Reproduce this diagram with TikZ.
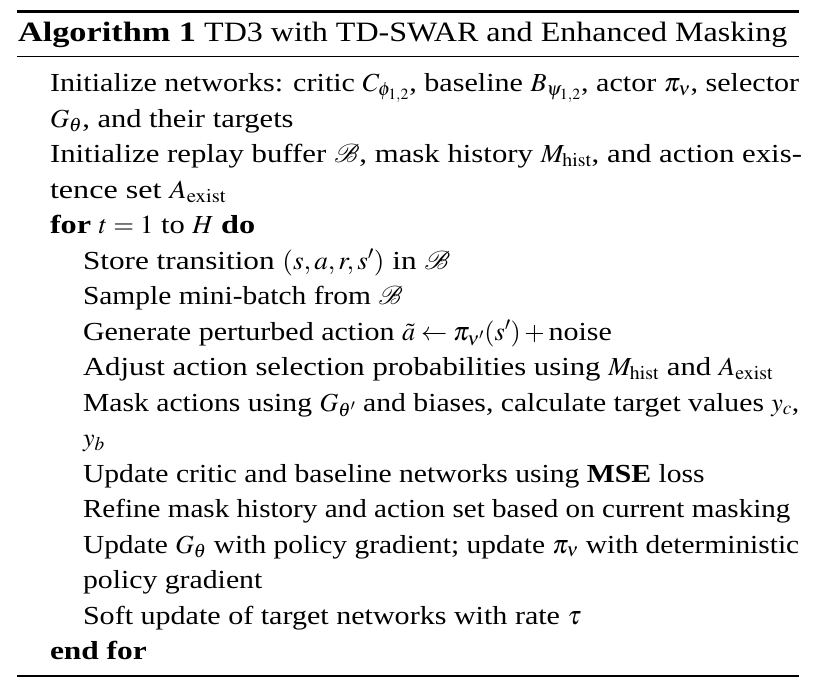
\documentclass[tikz,border=0pt]{standalone}
\usepackage{amsmath}
\usepackage{mathptmx}
\usepackage{graphicx}
\usepackage{fontspec}
\setmainfont{Liberation Serif}[FakeStretch=1.145]
\newcommand\hsx[2]{\scalebox{#1}[1]{#2}}
\newcommand\kw[1]{\scalebox{1.055}[1]{\textbf{#1}}}
\begin{document}
\begin{tikzpicture}[x=1pt,y=-1pt,
  txt/.style={anchor=base west,inner sep=0pt,outer sep=0pt,font=\fontsize{26}{30}\selectfont},
  titletxt/.style={anchor=base west,inner sep=0pt,outer sep=0pt,font=\fontsize{28}{32}\selectfont},
  thickrule/.style={line width=2.4pt,black},
  thinrule/.style={line width=1.3pt,black}]
\useasboundingbox (0,0) rectangle (817,688);
\coordinate (r1l) at (17,11.5); \coordinate (r1r) at (799,11.5);
\coordinate (r2l) at (17,56.5); \coordinate (r2r) at (799,56.5);
\coordinate (r3l) at (17,676); \coordinate (r3r) at (799,676);
\draw[thickrule] (r1l) -- (r1r);
\draw[thinrule] (r2l) -- (r2r);
\draw[thinrule] (r3l) -- (r3r);
\node[titletxt] (title) at (18,41.7) {\scalebox{1.07}[1]{\textbf{Algorithm 1}} TD3 with TD-SWAR and Enhanced Masking};
\node[txt] (l0) at (50,91.5) {\hsx{1.011}{Initialize networks: critic $C_{\phi_{1,2}}$, baseline $B_{\psi_{1,2}}$, actor $\pi_\nu$, selector}};
\node[txt] (l1) at (50,127) {\hsx{1.025}{$G_\theta$, and their targets}};
\node[txt] (l2) at (50,162.5) {\hsx{1.034}{Initialize replay buffer $\mathcal{B}$, mask history $M_{\mathrm{hist}}$, and action exis-}};
\node[txt] (l3) at (50,198) {\hsx{1.08}{tence set $A_{\mathrm{exist}}$}};
\node[txt] (l4) at (50,233.5) {\hsx{1.027}{\kw{for} $t=1$ to $H$ \kw{do}}};
\node[txt] (l5) at (83,269) {\hsx{1.049}{Store transition $(s,a,r,s')$ in $\mathcal{B}$}};
\node[txt] (l6) at (83,304.5) {\hsx{0.99}{Sample mini-batch from $\mathcal{B}$}};
\node[txt] (l7) at (83,340) {\hsx{1.008}{Generate perturbed action $\tilde{a}\leftarrow\pi_{\nu'}(s')+\text{noise}$}};
\node[txt] (l8) at (83,375.5) {\hsx{1.033}{Adjust action selection probabilities using $M_{\mathrm{hist}}$ and $A_{\mathrm{exist}}$}};
\node[txt] (l9) at (83,411) {\hsx{0.997}{Mask actions using $G_{\theta'}$ and biases, calculate target values $y_c$,}};
\node[txt] (l10) at (83,446.5) {$y_b$};
\node[txt] (l11) at (83,482) {\hsx{0.996}{Update critic and baseline networks using \textbf{MSE} loss}};
\node[txt] (l12) at (83,517.5) {\hsx{0.978}{Refine mask history and action set based on current masking}};
\node[txt] (l13) at (83,553) {\hsx{0.989}{Update $G_\theta$ with policy gradient; update $\pi_\nu$ with deterministic}};
\node[txt] (l14) at (83,588.5) {policy gradient};
\node[txt] (l15) at (83,624) {\hsx{1.01}{Soft update of target networks with rate $\tau$}};
\node[txt] (l16) at (50,659.5) {\kw{end for}};
\end{tikzpicture}
\end{document}
